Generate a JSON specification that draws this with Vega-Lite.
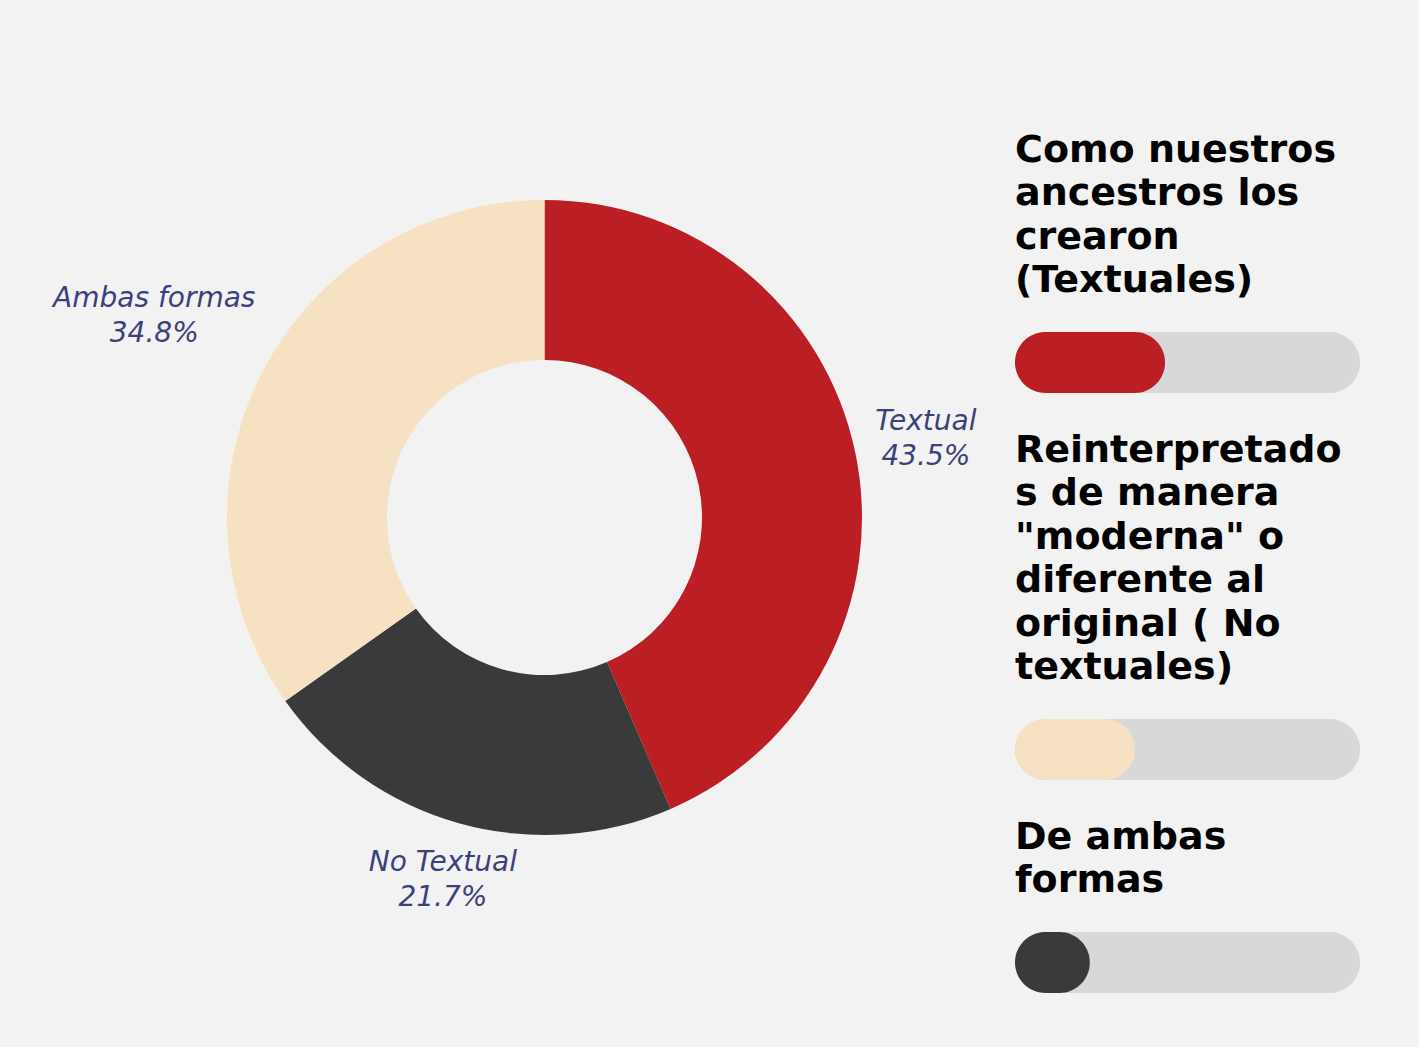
{
  "$schema": "https://vega.github.io/schema/vega-lite/v6.json",
  "background": "#F2F2F2",
  "padding": {"left": 26, "top": 0, "right": 59, "bottom": 12},
  "config": {"view": {"stroke": null}},
  "datasets": {
    "donut": [
      {"categoria": "Textual", "valor": 43.5},
      {"categoria": "No Textual", "valor": 21.7},
      {"categoria": "Ambas formas", "valor": 34.8}
    ],
    "leyenda": [
      {"categoria": "Textual", "valor": 43.5},
      {"categoria": "Ambas formas", "valor": 34.8},
      {"categoria": "No Textual", "valor": 21.7}
    ],
    "vacio": []
  },
  "spacing": 0,
  "bounds": "flush",
  "hconcat": [
    {"width": 48, "height": 1035, "data": {"name": "vacio"}, "mark": "text"},
    {
      "width": 941,
      "height": 1035,
      "data": {"name": "donut"},
      "transform": [
        {"calculate": "datum.categoria + '\\n' + format(datum.valor, '.1f') + '%'", "as": "etiqueta"}
      ],
      "encoding": {
        "theta": {"field": "valor", "type": "quantitative", "stack": true},
        "order": {"field": "categoria", "sort": "descending"}
      },
      "layer": [
        {
          "mark": {"type": "arc", "innerRadius": 157.5, "outerRadius": 317.5},
          "encoding": {
            "color": {
              "field": "categoria",
              "type": "nominal",
              "scale": {"domain": ["Textual", "No Textual", "Ambas formas"], "range": ["#BC1F23", "#3A3A3A", "#F6E1C3"]},
              "legend": null
            }
          }
        },
        {
          "mark": {
            "type": "text",
            "font": "DejaVu Sans",
            "fontStyle": "italic",
            "fontSize": 28,
            "fill": "#3D3F7B",
            "align": "center",
            "baseline": "line-bottom",
            "lineBreak": "\n",
            "lineHeight": 35,
            "radius": {"expr": "309.8 + 10.44 * length(datum.categoria) * abs(sin(PI * (datum.valor_start + datum.valor_end) / 100)) + 39.9 * abs(cos(PI * (datum.valor_start + datum.valor_end) / 100))"}
          },
          "encoding": {
            "detail": {"field": "categoria", "type": "nominal"},
            "text": {"field": "etiqueta", "type": "nominal"}
          }
        }
      ]
    },
    {
      "spacing": 38,
      "bounds": "full",
      "vconcat": [
        {"width": 345, "height": 93, "data": {"name": "vacio"}, "mark": "text"},
        {
          "width": 345, "height": 61,
          "title": {"text": ["Como nuestros", "ancestros los", "crearon", "(Textuales)"], "anchor": "start", "font": "DejaVu Sans", "fontSize": 38, "fontWeight": "bold", "color": "#000000", "lineHeight": 43.5, "offset": 32},
          "data": {"name": "leyenda"},
          "transform": [{"filter": "datum.categoria === 'Textual'"}],
          "encoding": {"y": {"field": "categoria", "type": "nominal", "axis": null, "scale": {"paddingInner": 0, "paddingOuter": 0}}},
          "layer": [
            {"mark": {"type": "bar", "color": "#D8D8D8", "cornerRadius": 30.5}, "encoding": {"x": {"datum": 100, "type": "quantitative", "scale": {"domain": [0, 100]}, "axis": null}}},
            {"mark": {"type": "bar", "cornerRadius": 30.5}, "encoding": {"x": {"field": "valor", "type": "quantitative"}, "color": {"field": "categoria", "type": "nominal", "scale": {"domain": ["Textual", "No Textual", "Ambas formas"], "range": ["#BC1F23", "#3A3A3A", "#F6E1C3"]}, "legend": null}}}
          ]
        },
        {
          "width": 345, "height": 61,
          "title": {"text": ["Reinterpretado", "s de manera", "\"moderna\" o", "diferente al", "original ( No", "textuales)"], "anchor": "start", "font": "DejaVu Sans", "fontSize": 38, "fontWeight": "bold", "color": "#000000", "lineHeight": 43.5, "offset": 32},
          "data": {"name": "leyenda"},
          "transform": [{"filter": "datum.categoria === 'Ambas formas'"}],
          "encoding": {"y": {"field": "categoria", "type": "nominal", "axis": null, "scale": {"paddingInner": 0, "paddingOuter": 0}}},
          "layer": [
            {"mark": {"type": "bar", "color": "#D8D8D8", "cornerRadius": 30.5}, "encoding": {"x": {"datum": 100, "type": "quantitative", "scale": {"domain": [0, 100]}, "axis": null}}},
            {"mark": {"type": "bar", "cornerRadius": 30.5}, "encoding": {"x": {"field": "valor", "type": "quantitative"}, "color": {"field": "categoria", "type": "nominal", "scale": {"domain": ["Textual", "No Textual", "Ambas formas"], "range": ["#BC1F23", "#3A3A3A", "#F6E1C3"]}, "legend": null}}}
          ]
        },
        {
          "width": 345, "height": 61,
          "title": {"text": ["De ambas", "formas"], "anchor": "start", "font": "DejaVu Sans", "fontSize": 38, "fontWeight": "bold", "color": "#000000", "lineHeight": 43.5, "offset": 32},
          "data": {"name": "leyenda"},
          "transform": [{"filter": "datum.categoria === 'No Textual'"}],
          "encoding": {"y": {"field": "categoria", "type": "nominal", "axis": null, "scale": {"paddingInner": 0, "paddingOuter": 0}}},
          "layer": [
            {"mark": {"type": "bar", "color": "#D8D8D8", "cornerRadius": 30.5}, "encoding": {"x": {"datum": 100, "type": "quantitative", "scale": {"domain": [0, 100]}, "axis": null}}},
            {"mark": {"type": "bar", "cornerRadius": 30.5}, "encoding": {"x": {"field": "valor", "type": "quantitative"}, "color": {"field": "categoria", "type": "nominal", "scale": {"domain": ["Textual", "No Textual", "Ambas formas"], "range": ["#BC1F23", "#3A3A3A", "#F6E1C3"]}, "legend": null}}}
          ]
        }
      ]
    }
  ]
}
